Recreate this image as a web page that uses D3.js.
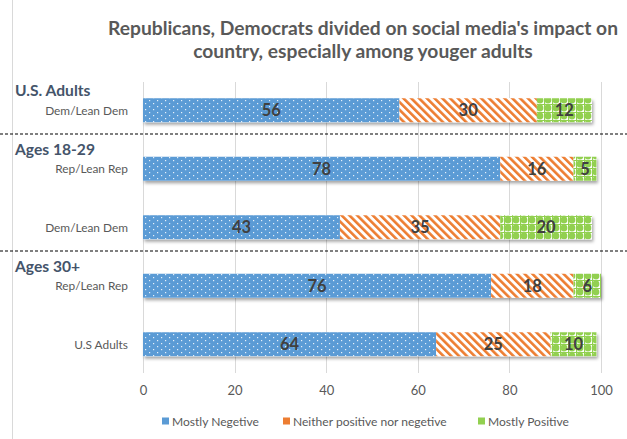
<!DOCTYPE html>
<html><head><meta charset="utf-8">
<script src="https://cdn.jsdelivr.net/npm/d3@7"></script>
<style>body{margin:0;background:#fff;} text{font-family:Lato,"Open Sans",sans-serif;}</style>
</head><body><svg id="c" width="627" height="439"></svg>
<script>
const titleLines = ["Republicans, Democrats divided on social media's impact on", "country, especially among youger adults"];
const groups = [
  {name: "U.S. Adults", first: 0},
  {name: "Ages 18-29", first: 1},
  {name: "Ages 30+", first: 3}
];
const categories = ["Dem/Lean Dem", "Rep/Lean Rep", "Dem/Lean Dem", "Rep/Lean Rep", "U.S Adults"];
const seriesNames = ["Mostly Negetive", "Neither positive nor negetive", "Mostly Positive"];
const negative = [56, 78, 43, 76, 64];
const neither = [30, 16, 35, 18, 25];
const positive = [12, 5, 20, 6, 10];
const ticks = [0, 20, 40, 60, 80, 100];

const svg = d3.select("#c");
const defs = svg.append("defs");
const pB = defs.append("pattern").attr("id","pB").attr("patternUnits","userSpaceOnUse").attr("width",8).attr("height",6);
pB.append("rect").attr("width",8).attr("height",6).attr("fill","#5B9BD5");
pB.append("rect").attr("x",1).attr("y",1).attr("width",1.2).attr("height",1.2).attr("fill","#e6f0fa");
pB.append("rect").attr("x",5).attr("y",4).attr("width",1.2).attr("height",1.2).attr("fill","#e6f0fa");
const pO = defs.append("pattern").attr("id","pO").attr("patternUnits","userSpaceOnUse").attr("width",5.5).attr("height",5.5).attr("patternTransform","rotate(-45)");
pO.append("rect").attr("width",5.5).attr("height",5.5).attr("fill","#fff");
pO.append("rect").attr("width",2.6).attr("height",5.5).attr("fill","#ED7D31");
const pG = defs.append("pattern").attr("id","pG").attr("patternUnits","userSpaceOnUse").attr("width",8).attr("height",8);
pG.append("rect").attr("width",8).attr("height",8).attr("fill","#fff");
pG.append("circle").attr("cx",4).attr("cy",4).attr("r",3.4).attr("fill","#92D050");
pG.append("rect").attr("x",0).attr("y",0).attr("width",1.2).attr("height",8).attr("fill","#92D050");
pG.append("rect").attr("x",0).attr("y",0).attr("width",8).attr("height",1).attr("fill","#92D050");
const f = defs.append("filter").attr("id","sh").attr("x","-5%").attr("y","-30%").attr("width","110%").attr("height","180%");
f.append("feDropShadow").attr("dx",1.5).attr("dy",2.5).attr("stdDeviation",1.5).attr("flood-color","#000").attr("flood-opacity",0.35);

const fills = ["url(#pB)","url(#pO)","url(#pG)"];
const colors = ["#5B9BD5","#ED7D31","#92D050"];

// fit a selection's font size so that a reference text gets a target width
function fit(sel, refText, target, base){
  const t = svg.append("text").attr("font-size",base).attr("font-weight",sel.attr("font-weight")||"normal").text(refText);
  const w = t.node().getComputedTextLength(); t.remove();
  sel.attr("font-size", base*target/w);
}

const x = d3.scaleLinear().domain([0,100]).range([143,601]);
const y = d3.scaleBand().domain(d3.range(categories.length)).range([81,373.5]).padding(0);
const barH = 24;

svg.append("line").attr("x1",12.5).attr("x2",12.5).attr("y1",0).attr("y2",439).attr("stroke","#d9d9d9");

const tt = svg.append("g").attr("font-weight","bold").selectAll("text").data(titleLines).join("text")
  .attr("x",363).attr("y",(d,i)=>35+i*22.5).attr("text-anchor","middle")
  .attr("font-weight","bold").attr("fill","#595959").text(d=>d);
fit(tt, titleLines[0], 510, 20);

svg.append("g").selectAll("line").data(ticks).join("line")
  .attr("x1",d=>Math.round(x(d))+0.5).attr("x2",d=>Math.round(x(d))+0.5)
  .attr("y1",82).attr("y2",373).attr("stroke","#d9d9d9");

const ax = svg.append("g").attr("transform","translate(0,375)")
  .call(d3.axisBottom(x).tickValues(ticks).tickSize(0).tickPadding(11));
ax.select(".domain").remove();
ax.selectAll("text").attr("font-size",13).attr("fill","#595959").attr("font-family","Lato,'Open Sans',sans-serif");

const rows = categories.map((c,i)=>({i, vals:[negative[i],neither[i],positive[i]]}));
const stack = d3.stack().keys([0,1,2]).value((d,k)=>d.vals[k]);
const stacked = stack(rows);

svg.append("g").selectAll("rect").data(rows).join("rect")
  .attr("x",x(0)).attr("y",d=>y(d.i)+y.bandwidth()/2-barH/2)
  .attr("width",d=>x(d3.sum(d.vals))-x(0)).attr("height",barH)
  .attr("fill","#fff").attr("filter","url(#sh)");

const segs = svg.append("g");
stacked.forEach((s,k)=>{
  segs.append("g").selectAll("rect").data(s).join("rect")
    .attr("x",d=>x(d[0])).attr("y",d=>y(d.data.i)+y.bandwidth()/2-barH/2)
    .attr("width",d=>x(d[1])-x(d[0])).attr("height",barH).attr("fill",fills[k]);
  segs.append("g").selectAll("text").data(s).join("text")
    .attr("x",d=>(x(d[0])+x(d[1]))/2).attr("y",d=>y(d.data.i)+y.bandwidth()/2+6)
    .attr("text-anchor","middle").attr("font-size",16.5).attr("font-weight","bold").attr("fill","#404040")
    .text(d=>d[1]-d[0]);
});

const cl = svg.append("g").selectAll("text").data(categories).join("text")
  .attr("x",128).attr("y",(d,i)=>y(i)+y.bandwidth()/2+4.5).attr("text-anchor","end")
  .attr("fill","#595959").text(d=>d);
fit(cl, "Dem/Lean Dem", 83, 13);

const gl = svg.append("g").selectAll("text").data(groups).join("text")
  .attr("x",15).attr("y",d=>y(d.first)+y.bandwidth()/2-14)
  .attr("font-weight","bold").attr("fill","#44546A").text(d=>d.name);
fit(gl, "Ages 18-29", 80, 16);

svg.append("g").selectAll("line").data(groups.slice(1)).join("line")
  .attr("x1",0).attr("x2",627)
  .attr("y1",d=>y(d.first)-5.5).attr("y2",d=>y(d.first)-5.5)
  .attr("stroke","#000").attr("stroke-width",1.2).attr("stroke-dasharray","3,2");

const legX = [162, 283, 478];
const lg = svg.append("g").selectAll("g").data(seriesNames).join("g")
  .attr("transform",(d,i)=>`translate(${legX[i]},421)`);
lg.append("rect").attr("x",0).attr("y",-3.5).attr("width",7).attr("height",7).attr("fill",(d,i)=>colors[i]);
const lt = lg.append("text").attr("x",10).attr("y",4.5).attr("fill","#595959").text(d=>d);
fit(lt, "Mostly Negetive", 87, 13);
</script></body></html>
